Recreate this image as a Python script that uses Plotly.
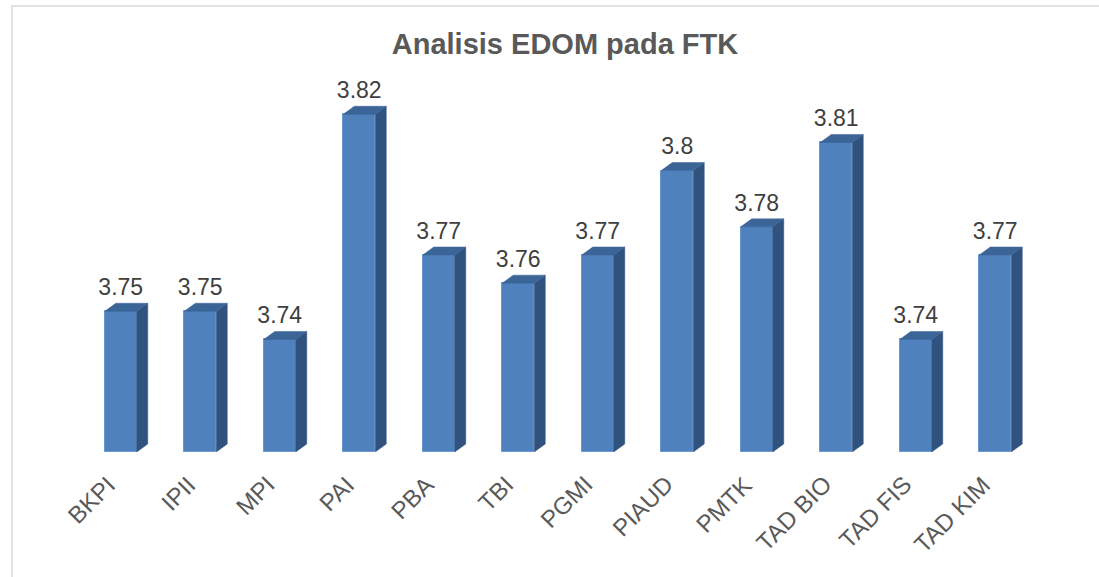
import plotly.graph_objects as go

categories = ["BKPI", "IPII", "MPI", "PAI", "PBA", "TBI", "PGMI", "PIAUD", "PMTK", "TAD BIO", "TAD FIS", "TAD KIM"]
values = [3.75, 3.75, 3.74, 3.82, 3.77, 3.76, 3.77, 3.80, 3.78, 3.81, 3.74, 3.77]
labels = ["3.75", "3.75", "3.74", "3.82", "3.77", "3.76", "3.77", "3.8", "3.78", "3.81", "3.74", "3.77"]

W, H = 1099, 577
L, R, T, B = 81, 64, 58, 125
Y0, Y1 = 3.70, 3.84
plot_w = W - L - R
plot_h = H - T - B
n = len(categories)
px_per_cat = plot_w / n
px_per_unit = plot_h / (Y1 - Y0)

bar_w = 32 / px_per_cat
dx = 11 / px_per_cat
dy = 8 / px_per_unit
lab_off = 2.5 / px_per_unit

FRONT = "#4F81BD"
SIDE = "#30527E"
TOP = "#3B6497"
FONT = "Liberation Sans, Arial"

fig = go.Figure()

xs = list(range(n))
for i, v in zip(xs, values):
    x0 = i - bar_w / 2
    x1 = i + bar_w / 2
    fig.add_trace(go.Scatter(
        x=[x1, x1, x1 + dx, x1 + dx, x1],
        y=[Y0, v, v + dy, Y0 + dy, Y0],
        fill="toself", fillcolor=SIDE, mode="lines",
        line=dict(color=SIDE, width=0.5), hoverinfo="skip", showlegend=False))
    fig.add_trace(go.Scatter(
        x=[x0, x1, x1 + dx, x0 + dx, x0],
        y=[v, v, v + dy, v + dy, v],
        fill="toself", fillcolor=TOP, mode="lines",
        line=dict(color=TOP, width=0.5), hoverinfo="skip", showlegend=False))

fig.add_trace(go.Bar(
    x=xs, y=[v - Y0 for v in values], base=Y0, width=bar_w,
    marker=dict(color=FRONT, line=dict(color="#6A97CE", width=1)),
    showlegend=False, hoverinfo="skip"))

fig.add_trace(go.Scatter(
    x=xs, y=[v + dy + lab_off for v in values], mode="text", text=labels,
    textposition="top center",
    textfont=dict(family=FONT, size=23, color="#404040"),
    showlegend=False, hoverinfo="skip"))

# category labels, rotated
for i, c in zip(xs, categories):
    fig.add_annotation(x=i, y=0, xref="x", yref="paper", text=c, showarrow=False,
                       textangle=-45, xanchor="right", yanchor="top",
                       xshift=3, yshift=-16,
                       font=dict(family=FONT, size=24, color="#595959"))

# chart border (top and left visible)
fig.add_shape(type="rect", xref="paper", yref="paper",
              x0=(12 - L) / plot_w, x1=(W + 20 - L) / plot_w,
              y0=-(B + 20) / plot_h, y1=(H - B - 6) / plot_h,
              line=dict(color="#D9D9D9", width=1.5), fillcolor="rgba(0,0,0,0)", layer="below")

fig.update_layout(
    width=W, height=H,
    margin=dict(l=L, r=R, t=T, b=B),
    paper_bgcolor="white", plot_bgcolor="white",
    title=dict(text="<b>Analisis EDOM pada FTK</b>", x=565 / W, xanchor="center",
               y=1 - 44 / H, yanchor="middle", yref="container",
               font=dict(family=FONT, size=29, color="#595959")),
    xaxis=dict(range=[-0.5, n - 0.5], showticklabels=False, showgrid=False,
               zeroline=False, showline=False, ticks=""),
    yaxis=dict(range=[Y0, Y1], visible=False, showgrid=False),
    bargap=0,
)

fig.write_html("out.html", config={"displayModeBar": False},
               post_script="document.body.style.margin='0';document.body.style.overflow='hidden';")
